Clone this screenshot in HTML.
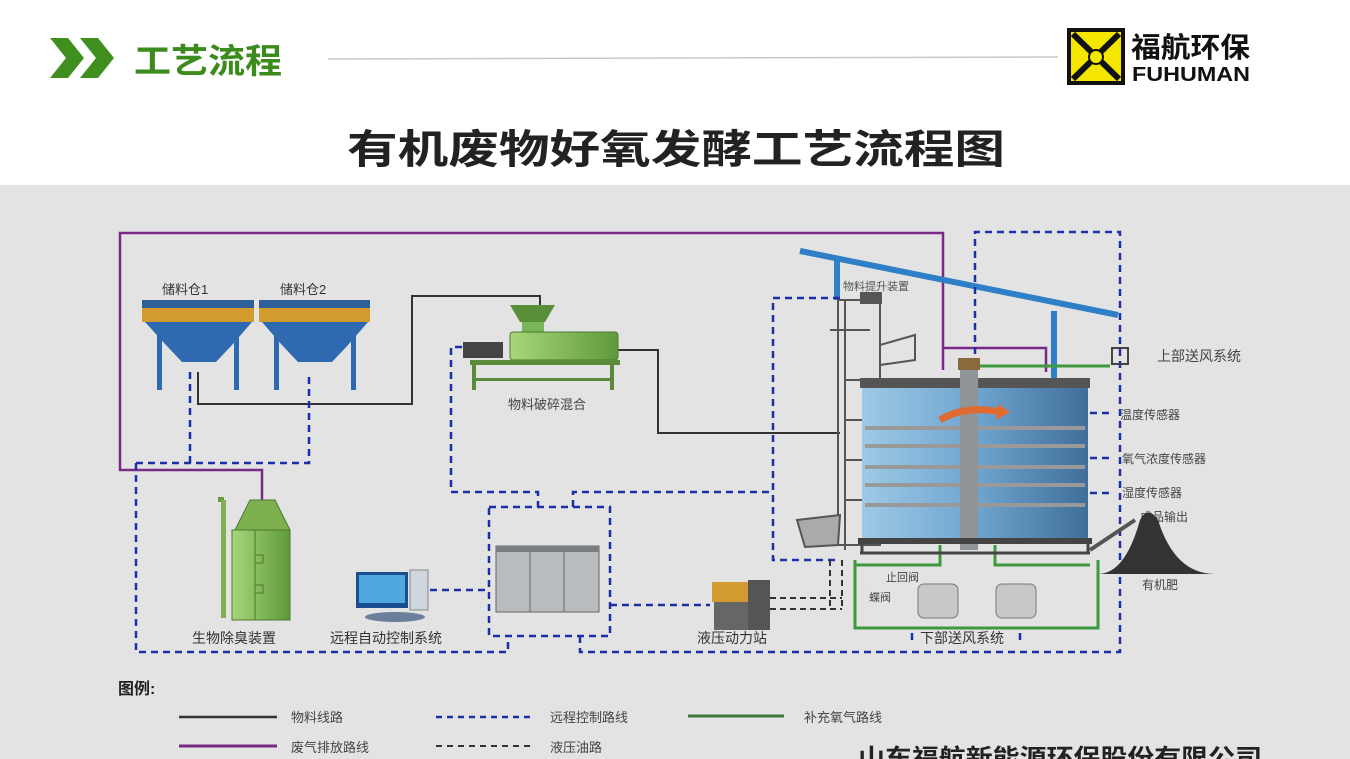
<!DOCTYPE html>
<html><head><meta charset="utf-8"><style>
html,body{margin:0;padding:0;background:#fff;}
svg{display:block;}
text{font-family:"Liberation Sans","Noto Sans CJK SC",sans-serif;}
</style></head><body>
<svg width="1350" height="759" viewBox="0 0 1350 759" xmlns="http://www.w3.org/2000/svg">
<defs>
<linearGradient id="tank" x1="0" x2="1" y1="0" y2="0">
<stop offset="0" stop-color="#9fc9e6"/><stop offset="0.5" stop-color="#6fa5cf"/><stop offset="1" stop-color="#3f6f9a"/></linearGradient>
<linearGradient id="grn" x1="0" x2="1"><stop offset="0" stop-color="#a8d67a"/><stop offset="1" stop-color="#5e9a3a"/></linearGradient>
</defs>
<rect width="1350" height="759" fill="#fff"/>
<!-- header -->
<polygon points="50,38 68,38 84,58 68,78 50,78 66,58" fill="#3f8f1f"/>
<polygon points="80,38 98,38 114,58 98,78 80,78 96,58" fill="#3f8f1f"/>
<text x="134" y="73" font-size="34" font-weight="bold" fill="#3b8c1c" textLength="148" lengthAdjust="spacingAndGlyphs">工艺流程</text>
<line x1="328" y1="59" x2="1058" y2="57" stroke="#c8c8c8" stroke-width="1.5"/>
<rect x="1067" y="28" width="58" height="57" fill="#111"/>
<rect x="1071" y="32" width="50" height="49" fill="#f5e600"/>
<path d="M1073,34 L1119,79 M1119,34 L1073,79" stroke="#111" stroke-width="6"/>
<circle cx="1096" cy="57" r="7" fill="#f5e600" stroke="#111" stroke-width="2"/>
<text x="1131" y="57" font-size="28" font-weight="bold" fill="#111" textLength="119" lengthAdjust="spacingAndGlyphs">福航环保</text>
<text x="1132" y="81" font-size="20" font-weight="bold" fill="#111" font-family="Liberation Serif,serif" textLength="118" lengthAdjust="spacingAndGlyphs">FUHUMAN</text>
<text x="347" y="163" font-size="40" font-weight="bold" fill="#222" textLength="658" lengthAdjust="spacingAndGlyphs" font-family="'Noto Serif CJK SC','Liberation Serif',serif">有机废物好氧发酵工艺流程图</text>
<!-- gray bg -->
<rect x="0" y="185" width="1350" height="574" fill="#e3e3e3"/>

<!-- purple lines -->
<g stroke="#7a2a86" stroke-width="2.5" fill="none">
<polyline points="262,500 262,470 120,470 120,233 943,233 943,370"/>
<polyline points="943,348 1046,348 1046,372"/>
</g>
<!-- blue pipe -->
<g stroke="#2e7fc8" stroke-width="6" fill="none">
<line x1="800" y1="251" x2="1118" y2="315"/>
<line x1="837" y1="258" x2="837" y2="300"/>
<line x1="1054" y1="311" x2="1054" y2="378"/>
</g>
<!-- black material line -->
<g stroke="#333" stroke-width="2" fill="none">
<polyline points="198,372 198,404 412,404 412,296 540,296 540,312"/>
<polyline points="618,350 658,350 658,433 840,433"/>
</g>
<!-- blue dashed control -->
<g stroke="#1b2fa8" stroke-width="2.5" fill="none" stroke-dasharray="7,5">
<polyline points="190,372 190,463"/>
<polyline points="136,463 309,463 309,372"/>
<polyline points="136,463 136,652 508,652 508,636"/>
<rect x="489" y="507" width="121" height="129"/>
<polyline points="462,347 451,347 451,492 538,492 538,507"/>
<polyline points="573,507 573,492 773,492"/>
<polyline points="840,298 773,298 773,560 835,560"/>
<polyline points="430,590 489,590"/>
<polyline points="610,605 710,605"/>
<polyline points="580,636 580,652 1120,652 1120,232 975,232 975,410"/>
<polyline points="1090,413 1110,413"/>
<polyline points="1090,458 1110,458"/>
<polyline points="1090,493 1110,493"/>
<polyline points="912,633 912,645"/>
<polyline points="1020,633 1020,645"/>
</g>
<!-- black dashed hydraulic -->
<g stroke="#333" stroke-width="2" fill="none" stroke-dasharray="6,4">
<polyline points="770,598 842,598"/>
<polyline points="770,609 842,609"/>
<polyline points="830,560 830,609"/>
<polyline points="842,560 842,609"/>
</g>
<!-- green oxygen -->
<g stroke="#3c9a3c" stroke-width="3" fill="none">
<polyline points="975,366 1110,366"/>
<polyline points="855,560 855,628 1098,628 1098,560"/>
<polyline points="855,565 940,565 940,545"/>
<polyline points="995,545 995,565 1090,565"/>
</g>

<!-- bins -->
<g>
<rect x="142" y="300" width="112" height="8" fill="#2f5f9a"/>
<rect x="142" y="308" width="112" height="14" fill="#d39a30"/>
<polygon points="145,322 252,322 232,345 216,362 182,362 166,345" fill="#2f69b0"/>
<rect x="157" y="335" width="5" height="55" fill="#2f69b0"/><rect x="234" y="335" width="5" height="55" fill="#2f69b0"/>
<rect x="259" y="300" width="111" height="8" fill="#2f5f9a"/>
<rect x="259" y="308" width="111" height="14" fill="#d39a30"/>
<polygon points="262,322 368,322 348,345 332,362 298,362 282,345" fill="#2f69b0"/>
<rect x="274" y="335" width="5" height="55" fill="#2f69b0"/><rect x="351" y="335" width="5" height="55" fill="#2f69b0"/>
</g>
<text x="162" y="294" font-size="13" fill="#333">储料仓1</text>
<text x="280" y="294" font-size="13" fill="#333">储料仓2</text>
<!-- crusher -->
<g>
<polygon points="510,305 555,305 545,322 520,322" fill="#5a8f3a"/>
<rect x="522" y="322" width="22" height="18" fill="#7bb55a"/>
<rect x="510" y="332" width="108" height="28" rx="3" fill="url(#grn)" stroke="#4a7a30"/>
<rect x="463" y="342" width="40" height="16" fill="#444"/>
<rect x="470" y="360" width="150" height="5" fill="#5a8a3a"/>
<rect x="472" y="365" width="4" height="25" fill="#5a8a3a"/><rect x="610" y="365" width="4" height="25" fill="#5a8a3a"/>
<rect x="472" y="378" width="142" height="3" fill="#5a8a3a"/>
</g>
<text x="508" y="409" font-size="13" fill="#444">物料破碎混合</text>
<!-- biofilter -->
<g>
<rect x="218" y="497" width="6" height="5" fill="#6a9a40"/>
<rect x="221" y="500" width="5" height="118" fill="#7fb050"/>
<polygon points="235,530 250,500 275,500 290,530" fill="#7fb050" stroke="#4a7a30"/>
<rect x="232" y="530" width="58" height="90" fill="url(#grn)" stroke="#4a7a30"/>
<line x1="255" y1="530" x2="255" y2="620" stroke="#4a7a30"/>
<rect x="255" y="555" width="8" height="8" fill="none" stroke="#4a7a30"/>
<rect x="255" y="585" width="8" height="8" fill="none" stroke="#4a7a30"/>
</g>
<text x="192" y="643" font-size="14" fill="#333">生物除臭装置</text>
<!-- computer -->
<g>
<rect x="356" y="572" width="52" height="36" fill="#1a4f8f"/>
<rect x="359" y="575" width="46" height="28" fill="#4fa8e0"/>
<rect x="410" y="570" width="18" height="40" fill="#cfd6dd" stroke="#888"/>
<ellipse cx="395" cy="617" rx="30" ry="5" fill="#6a7f9a"/>
</g>
<text x="330" y="643" font-size="14" fill="#333">远程自动控制系统</text>
<!-- cabinets -->
<g fill="#b9bcbf" stroke="#666">
<rect x="496" y="546" width="34" height="66"/>
<rect x="530" y="546" width="34" height="66"/>
<rect x="564" y="546" width="35" height="66"/>
</g>
<rect x="496" y="546" width="103" height="6" fill="#7a7d80"/>
<!-- hydraulic -->
<g>
<rect x="712" y="582" width="36" height="20" fill="#d39a30"/>
<rect x="748" y="580" width="22" height="50" fill="#555"/>
<rect x="714" y="602" width="34" height="28" fill="#666"/>
</g>
<text x="697" y="643" font-size="14" fill="#333">液压动力站</text>

<!-- elevator & reactor -->
<g stroke="#555" stroke-width="2" fill="none">
<rect x="838" y="300" width="42" height="245"/>
<line x1="845" y1="300" x2="845" y2="550"/>
<line x1="830" y1="330" x2="870" y2="330"/>
<line x1="845" y1="380" x2="880" y2="380"/>
<line x1="845" y1="420" x2="880" y2="420"/>
<line x1="845" y1="460" x2="880" y2="460"/>
<line x1="845" y1="500" x2="880" y2="500"/>
<polygon points="797,520 840,515 838,545 805,547" fill="#aaa"/>
<polyline points="880,345 915,335 915,360 880,365"/>
</g>
<rect x="860" y="292" width="22" height="12" fill="#555"/>
<text x="843" y="290" font-size="11" fill="#555">物料提升装置</text>
<rect x="860" y="378" width="230" height="10" fill="#555"/>
<rect x="862" y="388" width="226" height="150" fill="url(#tank)"/>
<g stroke="#999" stroke-width="4">
<line x1="865" y1="428" x2="1085" y2="428"/>
<line x1="865" y1="446" x2="1085" y2="446"/>
<line x1="865" y1="467" x2="1085" y2="467"/>
<line x1="865" y1="485" x2="1085" y2="485"/>
<line x1="865" y1="505" x2="1085" y2="505"/>
</g>
<rect x="960" y="365" width="18" height="185" fill="#8f9499"/>
<rect x="958" y="358" width="22" height="12" fill="#8a6a3a"/>
<path d="M940,420 Q965,405 1000,412" stroke="#e06a30" stroke-width="7" fill="none"/>
<polygon points="998,404 1010,412 996,420" fill="#e06a30"/>
<rect x="858" y="538" width="234" height="6" fill="#444"/>
<g stroke="#444" stroke-width="3">
<line x1="862" y1="544" x2="862" y2="553"/><line x1="1088" y1="544" x2="1088" y2="553"/>
<line x1="860" y1="553" x2="1090" y2="553"/>
</g>
<rect x="1112" y="348" width="16" height="16" fill="none" stroke="#444" stroke-width="2"/>
<text x="1157" y="361" font-size="14" fill="#444">上部送风系统</text>
<text x="1120" y="419" font-size="12" fill="#444">温度传感器</text>
<text x="1122" y="463" font-size="12" fill="#444">氧气浓度传感器</text>
<text x="1122" y="497" font-size="12" fill="#444">湿度传感器</text>
<text x="1140" y="521" font-size="12" fill="#444">成品输出</text>
<line x1="1090" y1="550" x2="1135" y2="520" stroke="#555" stroke-width="4"/>
<path d="M1098,574 Q1125,574 1140,520 Q1148,505 1158,520 Q1175,574 1215,574 Z" fill="#333"/>
<text x="1142" y="589" font-size="12" fill="#444">有机肥</text>
<!-- blowers -->
<g fill="#c8c8c8" stroke="#777">
<rect x="918" y="584" width="40" height="34" rx="6"/>
<rect x="996" y="584" width="40" height="34" rx="6"/>
</g>
<text x="886" y="581" font-size="11" fill="#444">止回阀</text>
<text x="869" y="601" font-size="11" fill="#444">蝶阀</text>
<text x="920" y="643" font-size="14" fill="#333">下部送风系统</text>

<!-- legend -->
<text x="118" y="694" font-size="16" font-weight="bold" fill="#222">图例:</text>
<line x1="179" y1="717" x2="277" y2="717" stroke="#333" stroke-width="2.5"/>
<text x="291" y="722" font-size="13" fill="#444">物料线路</text>
<line x1="436" y1="717" x2="534" y2="717" stroke="#1b2fa8" stroke-width="2.5" stroke-dasharray="6,5"/>
<text x="550" y="722" font-size="13" fill="#444">远程控制路线</text>
<line x1="688" y1="716" x2="784" y2="716" stroke="#3c7a3c" stroke-width="3"/>
<text x="804" y="722" font-size="13" fill="#444">补充氧气路线</text>
<line x1="179" y1="746" x2="277" y2="746" stroke="#7a2a86" stroke-width="3"/>
<text x="291" y="752" font-size="13" fill="#444">废气排放路线</text>
<line x1="436" y1="746" x2="534" y2="746" stroke="#333" stroke-width="2" stroke-dasharray="6,5"/>
<text x="550" y="752" font-size="13" fill="#444">液压油路</text>
<text x="858" y="766" font-size="24" font-weight="bold" fill="#222" textLength="404" lengthAdjust="spacingAndGlyphs">山东福航新能源环保股份有限公司</text>
</svg>
</body></html>
